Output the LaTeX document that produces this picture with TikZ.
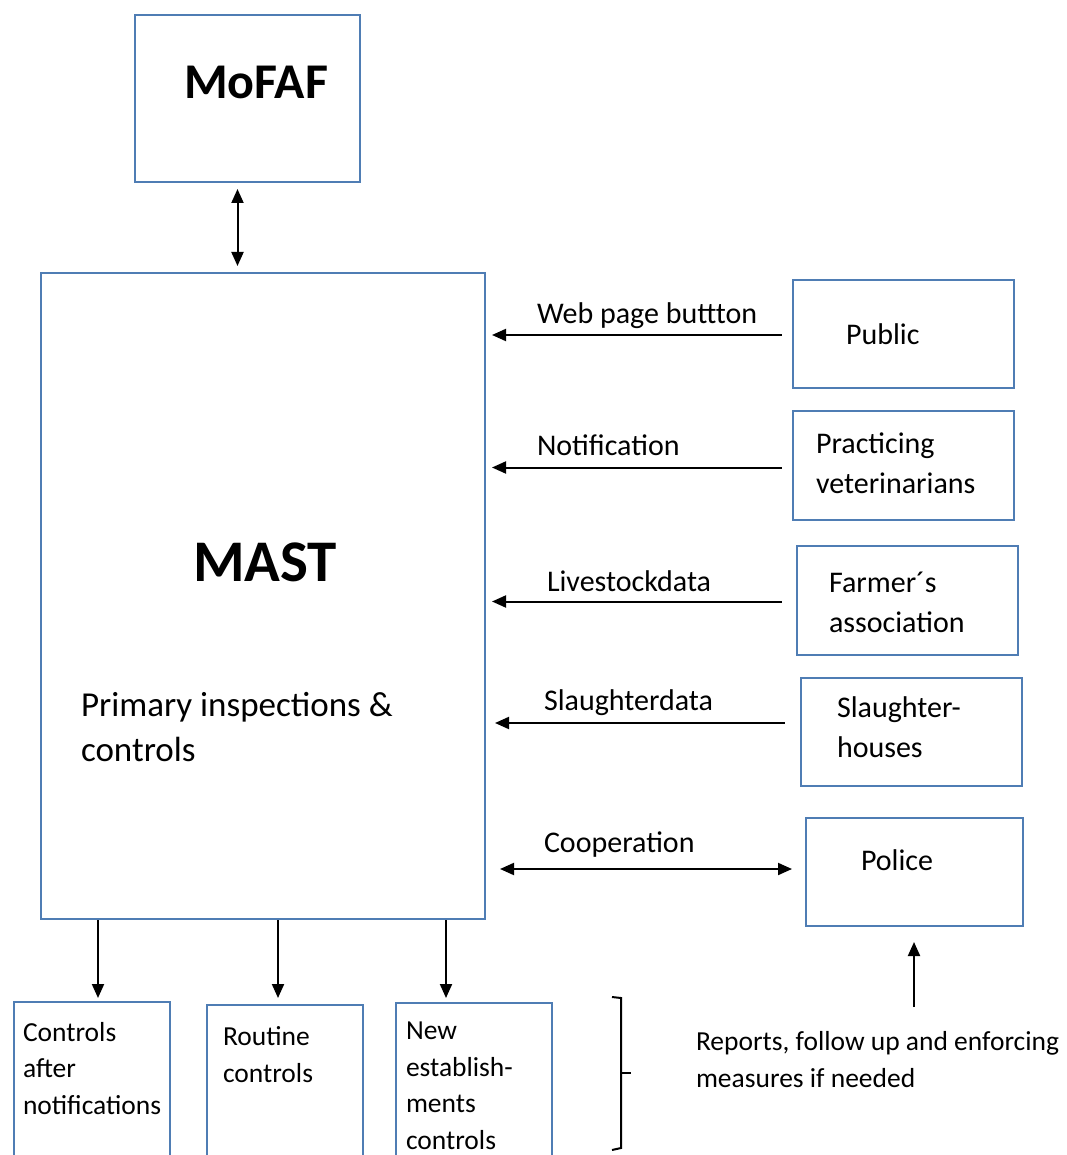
\documentclass[tikz,border=0pt]{standalone}
\usepackage{fontspec}
\setmainfont{Carlito}
\usetikzlibrary{arrows.meta}
\definecolor{BoxBlue}{RGB}{79,125,180}

\begin{document}
\begin{tikzpicture}[x=1pt,y=-1pt,line width=2pt,>={Triangle[length=14pt,width=12pt]},
  box/.style={draw=BoxBlue,line width=2pt,anchor=north west,inner sep=0pt},
  lbl/.style={anchor=base west,inner sep=0pt,align=left}]
\def\rsz{\fontsize{30}{40}\selectfont}
\def\bsz{\fontsize{27.5}{36.5}\selectfont}
\useasboundingbox (0,0) rectangle (1066,1155);
\clip (0,0) rectangle (1066,1155);

\node[box,minimum width=225pt,minimum height=167pt] (mofaf) at (134,14) {};
\node[box,minimum width=444pt,minimum height=646pt] (mast) at (40,272) {};
\node[box,minimum width=221pt,minimum height=108pt] (pub) at (792,279) {};
\node[box,minimum width=221pt,minimum height=109pt] (vet) at (792,410) {};
\node[box,minimum width=221pt,minimum height=109pt] (farm) at (796,545) {};
\node[box,minimum width=221pt,minimum height=108pt] (sl) at (800,677) {};
\node[box,minimum width=217pt,minimum height=108pt] (pol) at (805,817) {};
\node[box,minimum width=156pt,minimum height=250pt] (ctl) at (13,1001) {};
\node[box,minimum width=156pt,minimum height=250pt] (rout) at (206,1004) {};
\node[box,minimum width=156pt,minimum height=250pt] (new) at (395,1002) {};

\node[lbl,font=\fontsize{50}{60}\selectfont\bfseries] (tmofaf) at (183,99) {MoFAF};
\node[lbl,font=\fontsize{59}{70}\selectfont\bfseries] (tmast) at (192,581) {MAST};
\node[lbl,font=\fontsize{35}{45}\selectfont] (tprim) at (80,761) {Primary inspections \&\\controls};
\node[lbl,font=\rsz] (tpub) at (845,344) {Public};
\node[lbl,font=\rsz] (tvet) at (815,493) {Practicing\\veterinarians};
\node[lbl,font=\rsz] (tfarm) at (828,632) {Farmer´s\\association};
\node[lbl,font=\rsz] (tsl) at (836,757) {Slaughter-\\houses};
\node[lbl,font=\rsz] (tpol) at (860,870) {Police};
\node[lbl,font=\bsz] (tctl) at (22,1114) {Controls\\after\\notifications};
\node[lbl,font=\bsz] (trout) at (222,1082) {Routine\\controls};
\node[lbl,font=\bsz] (tnew) at (405,1149) {New\\establish-\\ments\\controls};
\node[lbl,font=\bsz] (trep) at (695,1087) {Reports, follow up and enforcing\\measures if needed};

\node[lbl,font=\rsz] (lweb) at (536,323) {Web page buttton};
\node[lbl,font=\rsz] (lnot) at (536,455) {Notification};
\node[lbl,font=\rsz] (lliv) at (546,591) {Livestockdata};
\node[lbl,font=\rsz] (lsl) at (543,710) {Slaughterdata};
\node[lbl,font=\rsz] (lcoop) at (543,852) {Cooperation};

\coordinate (up) at ([xshift=-10pt]mofaf.south);
\draw[<->,shorten <=6pt,shorten >=6pt] (up) -- (up |- mast.north);

\draw[<-,shorten <=6pt,shorten >=10pt] ([yshift=-1pt]pub.west -| mast.east) -- ([yshift=-1pt]pub.west);
\draw[<-,shorten <=6pt,shorten >=10pt] ([yshift=-2pt]vet.west -| mast.east) -- ([yshift=-2pt]vet.west);
\draw[<-,shorten <=6pt,shorten >=14pt] ([yshift=-1pt]farm.west -| mast.east) -- ([yshift=-1pt]farm.west);
\draw[<-,shorten <=9pt,shorten >=15pt] ([yshift=9pt]sl.west -| mast.east) -- ([yshift=9pt]sl.west);
\draw[<->,shorten <=14pt,shorten >=13pt] ([yshift=3pt]pol.west -| mast.east) -- ([yshift=3pt]pol.west);

\coordinate (d1) at ([xshift=58pt]mast.south west);
\coordinate (d2) at ([xshift=238pt]mast.south west);
\coordinate (d3) at ([xshift=406pt]mast.south west);
\draw[->,shorten >=3pt] (d1) -- (d1 |- ctl.north);
\draw[->,shorten >=6pt] (d2) -- (d2 |- rout.north);
\draw[->,shorten >=4pt] (d3) -- (d3 |- new.north);

\coordinate (foot) at (914,1007);
\draw[->,shorten >=15pt] (foot) -- (foot |- pol.south);

\draw (612,997) -- (621,998) -- (621,1148) -- (612,1150);
\draw (621,1073) -- (631,1073);

\end{tikzpicture}
\end{document}
